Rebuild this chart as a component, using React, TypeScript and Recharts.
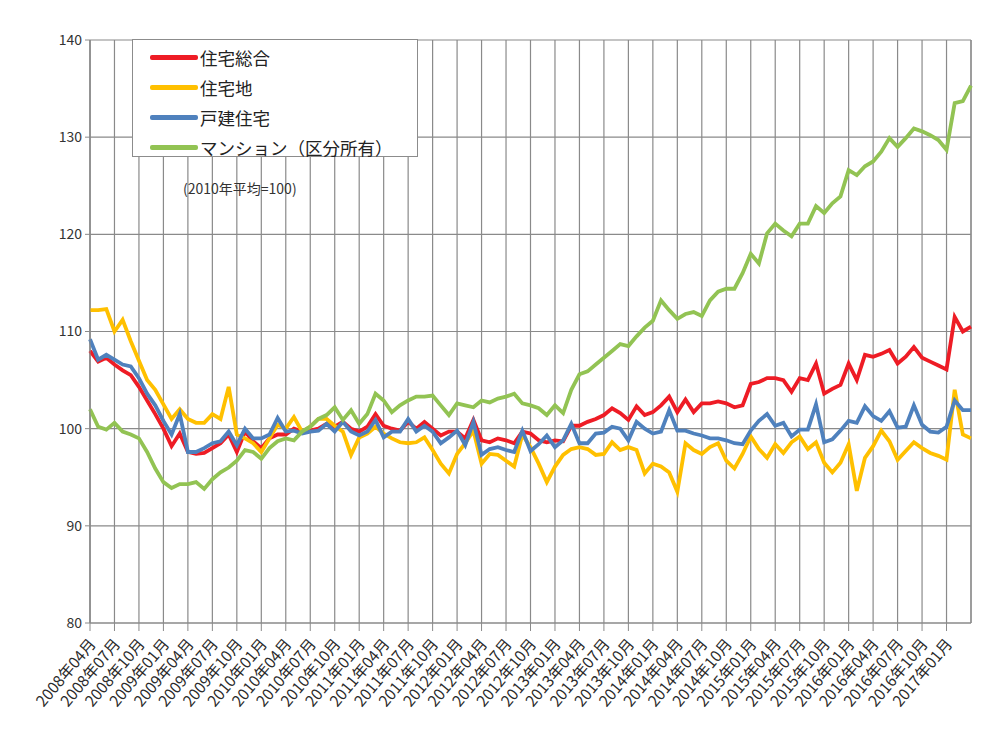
import React from 'react';
import { LineChart, Line, XAxis, YAxis, CartesianGrid, Legend, ReferenceLine } from 'recharts';

const FONT = '"Noto Sans CJK JP", "Noto Sans", sans-serif';

// 2008年04月 〜 2017年04月 (月次, 2010年平均=100)
const SOGO = [
  108, 106.9, 107.3, 106.6, 106, 105.5, 104.3, 102.9, 101.5, 100, 98.2, 99.5, 97.6, 97.4, 97.5, 98, 98.5, 99.4, 97.6, 99.7, 98.7, 98, 99, 99.4, 99.4,
  100, 99.7, 99.8, 100, 100.5, 100.2, 100.7, 100, 99.7, 100.2, 101.5, 100.3, 100, 99.8, 100.7, 100, 100.7, 100, 99.3, 99.7, 99.7, 99, 100.9, 98.8, 98.6, 99, 98.8, 98.5, 99.7,
  99.5, 98.8, 98.6, 98.8, 98.7, 100.3, 100.3, 100.7, 101, 101.4, 102.1, 101.6, 100.9, 102.3, 101.4, 101.7, 102.4, 103.3, 101.7, 103, 101.7, 102.6, 102.6, 102.8, 102.6, 102.2, 102.4,
  104.6, 104.8, 105.2, 105.2, 105, 103.8, 105.2, 105, 106.7, 103.6, 104.1, 104.5, 106.7, 105, 107.6, 107.4, 107.7, 108.1, 106.7, 107.4, 108.4, 107.3, 106.9, 106.5, 106.1, 111.5, 110, 110.5,
];

const JUTAKUCHI = [
  112.2, 112.2, 112.3, 110, 111.2, 109, 107, 105, 104, 102.5, 101, 102, 101, 100.6, 100.6, 101.5, 101, 104.3, 99.4, 99, 98.5, 97.6, 99, 100.4, 100,
  101.2, 99.7, 100.2, 101, 101, 100.3, 99.7, 97.3, 99.1, 99.5, 100.2, 99.5, 99, 98.6, 98.5, 98.6, 99.1, 97.8, 96.4, 95.4, 97.4, 98.5, 99.8, 96.4, 97.4, 97.3, 96.7, 96.1, 99.4,
  98.1, 96.4, 94.5, 96.1, 97.3, 97.9, 98.1, 97.9, 97.3, 97.4, 98.6, 97.8, 98.1, 97.8, 95.4, 96.4, 96.1, 95.5, 93.5, 98.5, 97.8, 97.4, 98.1, 98.5, 96.7, 95.9, 97.4,
  99.2, 97.9, 97, 98.4, 97.5, 98.6, 99.2, 97.9, 98.6, 96.5, 95.5, 96.5, 98.4, 93.6, 97, 98.2, 99.8, 98.7, 96.8, 97.7, 98.6, 98, 97.5, 97.2, 96.8, 104, 99.4, 99,
];

const KODATE = [
  109.2, 107.1, 107.6, 107.1, 106.6, 106.4, 105.2, 103.6, 102.4, 100.8, 99.4, 101.5, 97.6, 97.6, 98, 98.5, 98.7, 99.7, 98.3, 100, 99, 99, 99.4, 101.1, 99.7,
  99.8, 99.5, 99.7, 99.8, 100.5, 99.7, 100.7, 99.7, 99.3, 99.7, 100.9, 99.1, 99.7, 99.7, 101, 99.7, 100.3, 99.7, 98.5, 99.1, 99.8, 98.3, 100.7, 97.3, 97.9, 98.1, 97.8, 97.6, 99.8,
  97.7, 98.4, 99.3, 98.1, 98.8, 100.5, 98.5, 98.5, 99.5, 99.6, 100.2, 100, 98.8, 100.7, 100, 99.5, 99.7, 101.9, 99.8, 99.8, 99.5, 99.3, 99, 99, 98.8, 98.5, 98.4,
  99.8, 100.8, 101.5, 100.3, 100.6, 99.2, 99.9, 99.9, 102.5, 98.6, 98.9, 99.8, 100.8, 100.6, 102.3, 101.3, 100.8, 101.8, 100.1, 100.2, 102.4, 100.4, 99.7, 99.6, 100.2, 102.9, 101.9, 101.9,
];

const MANSION = [
  102, 100.2, 99.9, 100.6, 99.7, 99.4, 99, 97.6, 95.9, 94.5, 93.9, 94.3, 94.3, 94.5, 93.8, 94.8, 95.5, 96, 96.7, 97.8, 97.6, 96.9, 98, 98.7, 99,
  98.8, 99.7, 100.2, 101, 101.4, 102.2, 100.9, 101.9, 100.5, 101.5, 103.6, 102.9, 101.7, 102.4, 102.9, 103.3, 103.3, 103.4, 102.4, 101.4, 102.6, 102.4, 102.2, 102.9, 102.7, 103.1, 103.3, 103.6, 102.6,
  102.4, 102.1, 101.4, 102.4, 101.6, 104, 105.6, 105.9, 106.6, 107.3, 108, 108.7, 108.5, 109.5, 110.4, 111.1, 113.2, 112.2, 111.3, 111.8, 112, 111.6, 113.2, 114.1, 114.4, 114.4, 116,
  118, 117, 120.1, 121.1, 120.4, 119.8, 121.1, 121.1, 122.9, 122.2, 123.2, 123.9, 126.6, 126.1, 127, 127.5, 128.5, 129.9, 129, 129.9, 130.9, 130.6, 130.2, 129.7, 128.7, 133.5, 133.7, 135.3,
];

const START_YEAR = 2008;
const START_MONTH = 4;
const MONTHS: string[] = SOGO.map((_, i) => {
  const m = START_MONTH - 1 + i;
  const y = START_YEAR + Math.floor(m / 12);
  return `${y}年${String((m % 12) + 1).padStart(2, '0')}月`;
});

const TICK_LABELS = [
  '2008年04月', '2008年07月', '2008年10月',
  '2009年01月', '2009年04月', '2009年07月', '2009年10月',
  '2010年01月', '2010年04月', '2010年07月', '2010年10月',
  '2011年01月', '2011年04月', '2011年07月', '2011年10月',
  '2012年01月', '2012年04月', '2012年07月', '2012年10月',
  '2013年01月', '2013年04月', '2013年07月', '2013年10月',
  '2014年01月', '2014年04月', '2014年07月', '2014年10月',
  '2015年01月', '2015年04月', '2015年07月', '2015年10月',
  '2016年01月', '2016年04月', '2016年07月', '2016年10月',
  '2017年01月',
];

const Y_TICKS = [80, 90, 100, 110, 120, 130, 140];

const SERIES = [
  { key: 'sogo', name: '住宅総合', color: '#EE1C25' },
  { key: 'jutakuchi', name: '住宅地', color: '#FFC000' },
  { key: 'kodate', name: '戸建住宅', color: '#4F81BD' },
  { key: 'mansion', name: 'マンション（区分所有）', color: '#92C353' },
];

const data = MONTHS.map((month, i) => ({
  month,
  sogo: SOGO[i],
  jutakuchi: JUTAKUCHI[i],
  kodate: KODATE[i],
  mansion: MANSION[i],
}));

function XTick({ x, y, payload }: any) {
  return (
    <text
      x={x}
      y={y}
      dx={4}
      dy="0.35em"
      transform={`rotate(-50, ${x}, ${y})`}
      textAnchor="end"
      fontSize={15.5}
      fontFamily={FONT}
      fill="#2a2a2a"
    >
      {payload.value}
    </text>
  );
}

function LegendBox() {
  return (
    <div
      style={{
        width: 286,
        height: 118,
        background: '#fff',
        border: '1px solid #8c8c8c',
        boxSizing: 'border-box',
        paddingTop: 2,
        fontFamily: FONT,
      }}
    >
      {SERIES.map((s) => (
        <div key={s.key} style={{ display: 'flex', alignItems: 'center', height: 30, paddingLeft: 17 }}>
          <span style={{ display: 'inline-block', width: 48, height: 5, background: s.color, borderRadius: 2 }} />
          <span style={{ fontSize: 17.5, color: '#222', marginLeft: 2 }}>{s.name}</span>
        </div>
      ))}
    </div>
  );
}

export default function App() {
  return (
    <div style={{ position: 'relative', width: 987, height: 734, margin: -8, background: '#fff', fontFamily: FONT }}>
      <div
        style={{
          position: 'absolute',
          left: 7,
          top: 3,
          width: 976,
          height: 730,
          border: '1px solid #9a9a9a',
          boxSizing: 'border-box',
        }}
      />
      <LineChart
        width={987}
        height={734}
        data={data}
        margin={{ top: 40, right: 16, bottom: 11, left: 30 }}
      >
        <CartesianGrid stroke="#8a8a8a" strokeWidth={1.2} />
        <XAxis
          dataKey="month"
          ticks={TICK_LABELS}
          interval={0}
          height={100}
          tickSize={8}
          tickMargin={13}
          tick={<XTick />}
          stroke="#8a8a8a"
        />
        <YAxis
          domain={[80, 140]}
          ticks={Y_TICKS}
          interval={0}
          width={60}
          tickSize={5}
          tickMargin={3}
          stroke="#8a8a8a"
          tick={{ fontSize: 14, fill: '#333', fontFamily: FONT }}
        />
        <ReferenceLine x={MONTHS[MONTHS.length - 1]} stroke="#8a8a8a" strokeWidth={1.2} />
        <Legend
          layout="vertical"
          align="center"
          verticalAlign="middle"
          content={() => <LegendBox />}
          wrapperStyle={{ position: 'absolute', left: 132, top: 39, width: 286, height: 118 }}
        />
        {SERIES.map((s) => (
          <Line
            key={s.key}
            type="linear"
            dataKey={s.key}
            name={s.name}
            stroke={s.color}
            strokeWidth={3.8}
            dot={false}
            activeDot={false}
            isAnimationActive={false}
          />
        ))}
      </LineChart>
      <div
        style={{
          position: 'absolute',
          left: 183,
          top: 178,
          fontSize: 14,
          color: '#333',
          fontFamily: FONT,
          whiteSpace: 'nowrap',
        }}
      >
        (2010年平均=100)
      </div>
    </div>
  );
}
